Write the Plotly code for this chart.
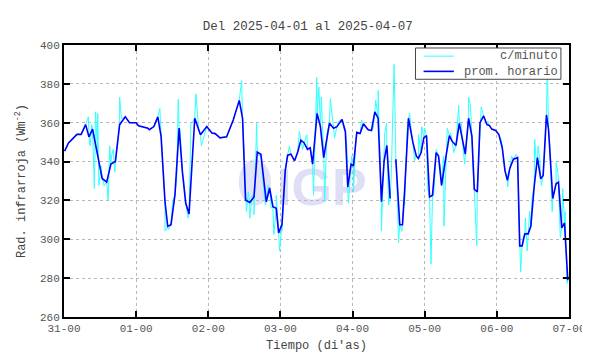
import pandas as pd
import plotly.graph_objects as go

# Hourly mean (prom. horario): hours since 2025-03-31 00:00 and values (W m^-2)
hourly_h = [0.2, 1.5, 4.3, 5.7, 7.2, 8.3, 9.5, 11.2, 12.7, 14.2, 15.6, 17.1, 18.5, 20.4, 21.8,
            24.0, 24.8, 27.9, 28.4, 29.9, 31.2, 32.3, 33.6, 34.5, 35.6, 36.9, 38.3, 39.4, 40.5, 41.6,
            43.5, 45.4, 47.5, 49.2, 50.3, 51.9, 54.1, 56.3, 58.3, 59.4, 60.4, 61.8, 63.2, 64.3, 65.5,
            67.3, 68.4, 69.5, 70.6, 71.4, 72.5, 73.6, 74.4, 75.5, 76.7, 77.7, 78.8, 79.9, 81.0, 81.9,
            82.7, 84.2, 85.3, 86.4, 88.3, 89.7, 90.8, 92.5, 93.6, 94.4, 95.5, 96.3, 97.4, 98.5, 99.6,
            101.2, 102.3, 103.4, 104.5, 105.6, 106.5, 107.4, 108.5, 109.5, 110.4, 111.7, 112.6, 113.3,
            114.6, 116.1, 117.2, 117.9, 118.8, 119.7, 120.6, 121.6, 122.6, 123.8, 124.6, 125.6, 127.2,
            128.2, 129.1, 130.4, 131.5, 132.4, 133.5, 134.6, 135.7, 136.5, 137.5, 138.4, 139.6, 140.7,
            141.5, 142.3, 143.6, 144.7, 145.8, 146.7, 147.5, 148.3, 149.5, 150.9, 151.6, 152.4, 153.3,
            154.4, 155.3, 156.4, 157.5, 158.6, 159.4, 160.5, 161.2, 162.6, 163.7, 164.5, 165.6, 166.5,
            167.6]
hourly_v = [345.4, 349.6, 354.0, 354.0, 359.0, 352.7, 356.7, 344.0, 331.3, 329.4, 338.7, 340.0, 359.0, 363.0, 360.0,
            360.0, 358.4, 357.2, 356.4, 358.0, 363.0, 353.0, 319.3, 306.7, 307.5, 322.7, 357.2, 334.5, 318.5, 313.0,
            362.3, 353.8, 358.0, 354.7, 354.4, 352.2, 352.7, 361.4, 371.5, 362.3, 320.2, 319.0, 321.8, 344.9, 343.8,
            319.3, 326.4, 316.8, 316.0, 303.3, 307.5, 335.3, 343.3, 343.8, 340.4, 344.6, 351.0, 349.6, 346.3, 347.1,
            338.7, 364.8, 358.0, 342.0, 359.7, 357.2, 358.0, 361.7, 355.5, 326.9, 338.7, 337.8, 355.0, 354.4, 359.4,
            356.4, 356.0, 365.6, 362.3, 319.3, 340.4, 348.3, 321.0, None, 341.2, 307.5, 307.5, 324.4,
            362.3, 349.6, 342.9, 341.6, 344.6, 352.2, 353.4, 321.8, 322.7, 344.6, 342.9, 327.7, 343.8,
            353.4, 350.5, 348.3, 359.7, 352.2, 343.8, 362.3, 353.0, 325.7, 324.4, 360.0, 363.5, 359.0,
            358.6, 356.7, 356.0, 353.8, 347.1, 335.3, 330.3, 336.5, 341.2, 342.0, 296.6, 296.6, 302.8,
            302.8, 306.7, 326.9, 342.0, 331.1, 332.8, 364.0, 356.4, 321.0, 328.6, 329.4, 305.9, 308.4,
            278.9]

# Per-minute extremes (c/minuto)
minute_h = [8.1, 8.7, 9.2, 10.1, 10.5, 11.2, 11.6, 12.3, 13.4, 14.7, 15.2, 15.8, 16.4, 16.9, 18.5, 19.1,
            31.9, 33.6, 34.7, 36.1, 37.5, 38.0, 38.6, 39.9, 41.3, 42.2, 43.9, 44.8, 45.7,
            59.1, 60.2, 60.7, 61.3, 61.8, 62.6, 63.2, 64.1, 64.8, 65.9, 67.0, 67.9, 68.9, 69.8, 70.6,
            71.7, 72.5, 73.4, 75.0, 78.3, 79.4, 80.8, 82.4, 83.0, 83.8, 84.1, 84.8, 85.6, 86.4, 86.7,
            87.5, 88.6, 90.0, 91.3, 93.0, 94.1, 94.6, 95.7, 96.3, 97.1, 99.0, 102.9, 103.7, 104.5,
            105.3, 105.6, 106.7, 107.3, 108.0, 108.9, 109.8, 110.3, 110.9, 111.3, 112.4, 113.3, 114.2,
            115.0, 115.7, 116.6, 117.9, 119.0, 119.9, 121.0, 122.1, 123.0, 123.8, 125.2, 126.3, 126.4,
            127.5, 128.6, 129.7, 131.3, 132.2, 133.3, 134.6, 135.2, 135.9, 136.8, 137.3, 138.8, 139.9,
            141.0, 145.6, 147.6, 148.9, 150.5, 151.6, 151.9, 152.7, 153.5, 154.1, 154.9, 155.7, 156.6,
            157.1, 157.7, 158.3, 158.8, 159.9, 160.8, 161.6, 162.4, 163.7, 164.3, 165.1, 165.9, 166.7,
            167.3]
minute_v = [363.0, 348.0, 359.0, 326.0, 365.6, 364.8, 327.7, 337.8, 327.7, 320.2, 348.0, 343.0, 346.3, 334.5, 373.2, 362.3,
            367.3, 304.2, 305.0, 319.3, 331.0, 372.0, 356.4, 329.4, 310.9, 359.0, 374.9, 356.4, 348.0,
            381.7, 334.5, 314.3, 324.4, 310.9, 322.7, 312.6, 359.7, 342.9, 334.5, 317.6, 327.7, 316.0, 302.5, 322.7,
            294.0, 304.2, 327.7, 348.0, 355.5, 346.3, 353.8, 342.9, 322.7, 364.8, 383.3, 378.3, 373.2, 344.6, 319.3,
            354.7, 372.4, 352.2, 360.6, 357.2, 348.0, 318.5, 342.9, 324.4, 351.4, 361.4, 357.2, 371.5, 376.6,
            334.5, 304.2, 354.7, 359.7, 317.6, 334.5, 390.0, 351.4, 321.0, 298.3, 304.2, 317.6, 358.0,
            364.8, 353.0, 340.4, 353.8, 358.0, 357.2, 326.1, 287.3, 322.7, 346.3, 337.8, 342.9, 306.7,
            357.2, 354.7, 344.6, 369.0, 359.7, 338.7, 373.2, 369.0, 341.2, 314.3, 296.6, 368.2, 362.3,
            360.6, 350.5, 326.9, 342.9, 343.8, 289.0, 283.1, 300.8, 310.9, 294.0, 314.3, 321.0, 351.4,
            339.5, 348.0, 341.2, 327.7, 348.0, 390.0, 348.0, 314.3, 339.5, 334.5, 300.8, 326.1, 314.3,
            277.2]

series_names = ["c/minuto", "prom. horario"]
series_colors = ["#33ffff", "#0000ff"]
title_text = "Del 2025-04-01 al 2025-04-07"
x_labels_fmt = "%d-%H"
start = pd.Timestamp("2025-03-31 00:00")
end = pd.Timestamp("2025-04-07 00:00")

def to_time(hs):
    return [start + pd.Timedelta(hours=h) for h in hs]

# cyan trace: union of read minute extremes and hourly vertices (sorted in time)
pairs = [(h, v) for h, v in zip(hourly_h, hourly_v) if v is not None] + list(zip(minute_h, minute_v))
pairs.sort(key=lambda p: p[0])
cy_h = [p[0] for p in pairs]
cy_v = [p[1] for p in pairs]

mono = "Liberation Mono, Courier New, monospace"

fig = go.Figure()
fig.add_trace(go.Scatter(x=to_time(cy_h), y=cy_v, mode="lines",
                         line=dict(color=series_colors[0], width=1),
                         name=series_names[0], showlegend=False))
fig.add_trace(go.Scatter(x=to_time(hourly_h), y=hourly_v, mode="lines",
                         line=dict(color=series_colors[1], width=1.6),
                         name=series_names[1], connectgaps=False, showlegend=False))

# IGP watermark (decorative, below the data)
wm = "rgba(205,205,240,0.65)"
fig.add_shape(type="circle", xref="paper", yref="paper", layer="below",
              x0=0.346, x1=0.41, y0=0.41, y1=0.58, fillcolor="rgba(215,215,245,0.7)", line_width=0)
fig.add_shape(type="rect", xref="paper", yref="paper", layer="below",
              x0=0.41, x1=0.62, y0=0.42, y1=0.57, line_width=0, fillcolor="rgba(0,0,0,0)",
              label=dict(text="<b>IGP</b>", textposition="middle left",
                         font=dict(family="Liberation Sans, Arial", size=52, color=wm)))

# key box in the gnuplot style (sample lines left, text right-justified)
fig.add_shape(type="rect", xref="paper", yref="paper", x0=0.696, x1=0.984, y0=0.874, y1=0.989,
              fillcolor="white", line=dict(color="#444", width=1))
row_y = [0.959, 0.903]
for nm, col, yy, w in zip(series_names, series_colors, row_y, [1, 1.6]):
    fig.add_shape(type="line", xref="paper", yref="paper", x0=0.712, x1=0.772, y0=yy, y1=yy,
                  line=dict(color=col, width=w))
fig.add_annotation(text="<br>".join(series_names), xref="paper", yref="paper",
                   x=0.982, xanchor="right", align="right",
                   y=(row_y[0] + row_y[1]) / 2, yanchor="middle", showarrow=False,
                   font=dict(family=mono, size=12, color="#555"))

axis_common = dict(showline=True, linecolor="black", linewidth=2, mirror="ticks",
                   ticks="inside", ticklen=6, tickwidth=1.5, tickcolor="black",
                   showgrid=True, gridcolor="#b8b8b8", griddash="dot", gridwidth=1,
                   zeroline=False, tickfont=dict(family=mono, size=11, color="#555"),
                   title_font=dict(family=mono, size=12, color="#444"))

fig.update_layout(
    width=590, height=354,
    margin=dict(l=54, r=26, t=37, b=40),
    paper_bgcolor="white", plot_bgcolor="white",
    title=dict(text=title_text, x=0.508, xanchor="center", y=0.95, yanchor="middle",
               font=dict(family=mono, size=12.5, color="#444")),
    xaxis=dict(type="date", range=[start, end], dtick=86400000, tickformat=x_labels_fmt,
               title=dict(text="Tiempo (di'as)", standoff=6), **axis_common),
    yaxis=dict(range=[260, 400], dtick=20,
               title=dict(text="Rad. infrarroja (Wm<sup>-2</sup>)", standoff=12), **axis_common),
    showlegend=False,
)

fig.write_html("out.html")
